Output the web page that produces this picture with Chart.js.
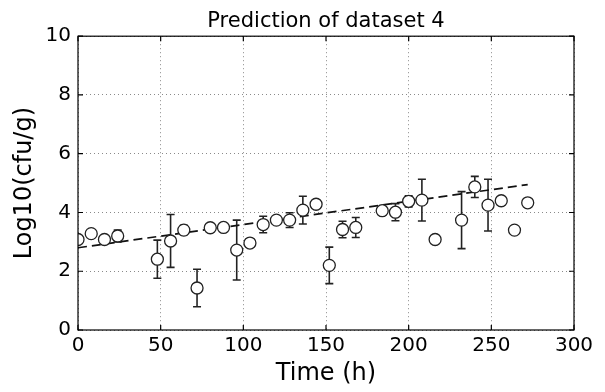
<!DOCTYPE html>
<html>
<head>
<meta charset="utf-8">
<script src="https://cdn.jsdelivr.net/npm/chart.js@4/dist/chart.umd.min.js"></script>
<style>
  html, body { margin: 0; padding: 0; background: #fff; }
  #wrap { width: 605px; height: 392px; }
</style>
</head>
<body>
<div id="wrap"><canvas id="chart" width="605" height="392"></canvas></div>
<script>
// measured samples (hours) and log10 counts, with +/- error
const times = [0, 8, 16, 24, 48, 56, 64, 72, 80, 88, 96, 104, 112, 120, 128, 136, 144, 152, 160, 168, 184, 192, 200, 208, 216, 232, 240, 248, 256, 264, 272];
const logCounts = [3.08, 3.28, 3.08, 3.2, 2.41, 3.03, 3.4, 1.43, 3.48, 3.49, 2.72, 2.96, 3.59, 3.74, 3.74, 4.08, 4.28, 2.2, 3.42, 3.49, 4.06, 4.01, 4.38, 4.42, 3.08, 3.74, 4.87, 4.25, 4.4, 3.4, 4.33];
const errors = [0, 0, 0, 0.2, 0.65, 0.9, 0.16, 0.64, 0, 0, 1.02, 0, 0.28, 0, 0.25, 0.47, 0, 0.62, 0.28, 0.34, 0, 0.29, 0.19, 0.71, 0, 0.97, 0.36, 0.88, 0, 0, 0];

// prediction line
const predTimes = [0, 272];
const predValues = [2.8, 4.95];

const xTicks = [0, 50, 100, 150, 200, 250, 300];
const yTicks = [0, 2, 4, 6, 8, 10];

const FONT = "'DejaVu Sans', sans-serif";

// error bars drawn under the circles
const errorBars = {
  id: 'errorBars',
  beforeDatasetsDraw(chart) {
    const { ctx, scales: { x, y }, chartArea } = chart;
    ctx.save();
    ctx.beginPath();
    ctx.rect(chartArea.left, chartArea.top, chartArea.right - chartArea.left, chartArea.bottom - chartArea.top);
    ctx.clip();
    ctx.strokeStyle = '#222';
    ctx.lineWidth = 1.6;
    times.forEach((t, i) => {
      const e = errors[i];
      if (!e) return;
      const px = x.getPixelForValue(t);
      const top = y.getPixelForValue(logCounts[i] + e);
      const bot = y.getPixelForValue(logCounts[i] - e);
      ctx.beginPath();
      ctx.moveTo(px, top); ctx.lineTo(px, bot);
      ctx.moveTo(px - 4, top); ctx.lineTo(px + 4, top);
      ctx.moveTo(px - 4, bot); ctx.lineTo(px + 4, bot);
      ctx.stroke();
    });
    ctx.restore();
  }
};

// frame and inward tick marks, matplotlib style
const frame = {
  id: 'frame',
  afterDraw(chart) {
    const { ctx, scales: { x, y }, chartArea: a } = chart;
    ctx.save();
    ctx.strokeStyle = '#000';
    ctx.lineWidth = 1.2;
    ctx.strokeRect(a.left, a.top, a.right - a.left, a.bottom - a.top);
    ctx.beginPath();
    xTicks.forEach(v => {
      const px = x.getPixelForValue(v);
      ctx.moveTo(px, a.bottom); ctx.lineTo(px, a.bottom - 5);
      ctx.moveTo(px, a.top); ctx.lineTo(px, a.top + 5);
    });
    yTicks.forEach(v => {
      const py = y.getPixelForValue(v);
      ctx.moveTo(a.left, py); ctx.lineTo(a.left + 5, py);
      ctx.moveTo(a.right, py); ctx.lineTo(a.right - 5, py);
    });
    ctx.stroke();
    ctx.restore();
  }
};

new Chart(document.getElementById('chart'), {
  type: 'scatter',
  data: {
    datasets: [
      {
        label: 'Observed',
        data: times.map((t, i) => ({ x: t, y: logCounts[i] })),
        pointRadius: 6,
        pointBackgroundColor: '#fff',
        pointBorderColor: '#222',
        pointBorderWidth: 1.3,
        showLine: false,
        clip: 0
      },
      {
        label: 'Prediction',
        data: predTimes.map((t, i) => ({ x: t, y: predValues[i] })),
        showLine: true,
        borderColor: '#111',
        borderWidth: 1.7,
        borderDash: [9, 5],
        pointRadius: 0,
        fill: false
      }
    ]
  },
  options: {
    responsive: false,
    animation: false,
    layout: { padding: { left: 0, right: 31, top: 0, bottom: 0 } },
    plugins: {
      legend: { display: false },
      tooltip: { enabled: false },
      title: {
        display: true,
        fullSize: false,
        text: 'Prediction of dataset 4',
        color: '#000',
        font: { family: FONT, size: 21, weight: 'normal' },
        padding: { top: 9, bottom: 2 }
      }
    },
    scales: {
      x: {
        type: 'linear',
        min: 0, max: 300,
        afterBuildTicks: s => { s.ticks = xTicks.map(v => ({ value: v })); },
        afterFit: s => { s.height = 62; },
        ticks: { color: '#000', font: { family: FONT, size: 20 }, padding: 4, maxRotation: 0 },
        grid: { color: '#8a8a8a', lineWidth: 1, drawTicks: false },
        border: { display: false, dash: [1, 3] },
        title: {
          display: true, text: 'Time (h)', color: '#000',
          font: { family: FONT, size: 24 }, padding: { top: 0, bottom: 4 }
        }
      },
      y: {
        type: 'linear',
        min: 0, max: 10,
        afterBuildTicks: s => { s.ticks = yTicks.map(v => ({ value: v })); },
        afterFit: s => { s.width = 78; },
        ticks: { color: '#000', font: { family: FONT, size: 20 }, padding: 7 },
        grid: { color: '#8a8a8a', lineWidth: 1, drawTicks: false },
        border: { display: false, dash: [1, 3] },
        title: {
          display: true, text: 'Log10(cfu/g)', color: '#000',
          font: { family: FONT, size: 24 }, padding: { top: 10, bottom: 0 }
        }
      }
    }
  },
  plugins: [errorBars, frame]
});
</script>
</body>
</html>
